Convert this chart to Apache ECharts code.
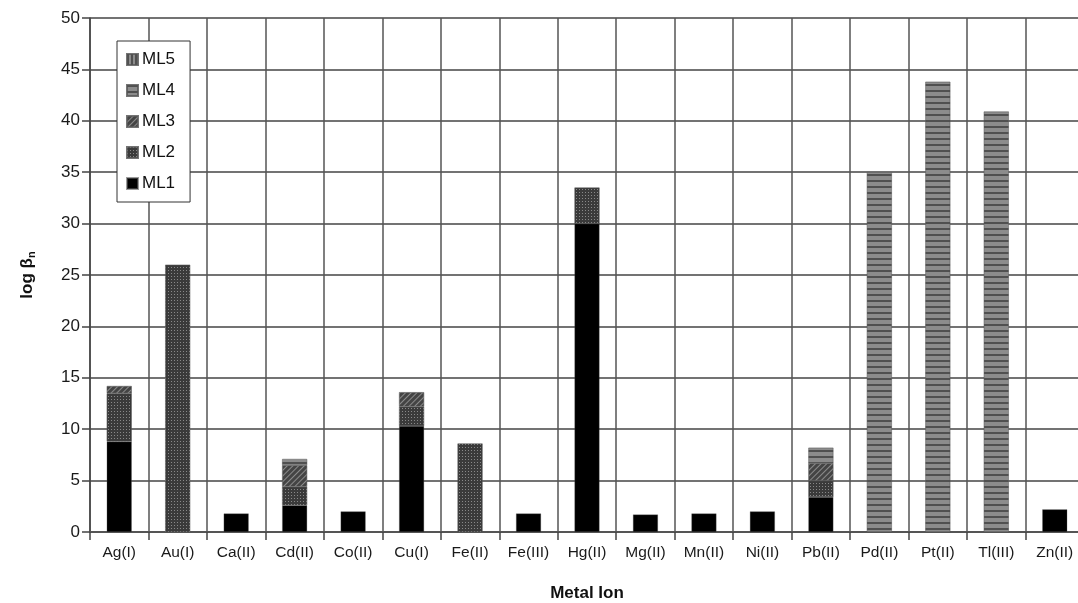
<!DOCTYPE html>
<html>
<head>
<meta charset="utf-8">
<script src="https://cdn.jsdelivr.net/npm/echarts@6/dist/echarts.min.js"></script>
<style>
  html, body { margin: 0; padding: 0; background: #fff; }
  #chart { width: 1078px; height: 603px; }
</style>
</head>
<body>
<div id="chart"></div>
<script>
// Stacked stability constants (log beta_n) per metal ion.
const ions = ['Ag(I)', 'Au(I)', 'Ca(II)', 'Cd(II)', 'Co(II)', 'Cu(I)', 'Fe(II)', 'Fe(III)', 'Hg(II)',
              'Mg(II)', 'Mn(II)', 'Ni(II)', 'Pb(II)', 'Pd(II)', 'Pt(II)', 'Tl(III)', 'Zn(II)'];
const ml1 = [8.8, 0, 1.8, 2.6, 2.0, 10.3, 0, 1.8, 30.0, 1.7, 1.8, 2.0, 3.4, 0, 0, 0, 2.2];
const ml2 = [4.7, 26.0, 0, 1.8, 0, 1.9, 8.6, 0, 3.5, 0, 0, 0, 1.6, 0, 0, 0, 0];
const ml3 = [0.7, 0, 0, 2.1, 0, 1.4, 0, 0, 0, 0, 0, 0, 1.7, 0, 0, 0, 0];
const ml4 = [0, 0, 0, 0.6, 0, 0, 0, 0, 0, 0, 0, 0, 1.5, 35.0, 43.8, 40.9, 0];
const ml5 = [0, 0, 0, 0, 0, 0, 0, 0, 0, 0, 0, 0, 0, 0, 0, 0, 0];
const yTicks = [0, 5, 10, 15, 20, 25, 30, 35, 40, 45, 50];

(function () {
  const chart = echarts.init(document.getElementById('chart'), null, { renderer: 'canvas' });
  const FONT = '"Liberation Sans", Arial, sans-serif';

  // fills mimic the printed hatch patterns
  const STYLES = {
    ML1: { color: '#000000' },
    ML2: { color: '#3a3a3a', decal: { symbol: 'rect', symbolSize: 1, color: 'rgba(200,200,200,0.55)', dashArrayX: [1, 2], dashArrayY: [1, 2] } },
    ML3: { color: '#444444', decal: { symbol: 'rect', symbolSize: 1, color: 'rgba(170,170,170,0.7)', dashArrayX: [1, 0], dashArrayY: [1, 3], rotation: -Math.PI / 4 } },
    ML4: { color: '#8c8c8c', decal: { symbol: 'rect', symbolSize: 1, color: 'rgba(60,60,60,0.75)', dashArrayX: [1, 0], dashArrayY: [2, 4] } },
    ML5: { color: '#8c8c8c', decal: { symbol: 'rect', symbolSize: 1, color: 'rgba(60,60,60,0.75)', dashArrayX: [2, 2], dashArrayY: [1, 0] } },
  };

  function mk(name, data) {
    return {
      name: name,
      type: 'bar',
      stack: 'logb',
      barWidth: 25,
      data: data.map((v) => (v > 0 ? v : '-')),
      itemStyle: Object.assign({ borderColor: 'rgba(90,90,90,0.6)', borderWidth: 0.5 }, STYLES[name]),
      emphasis: { disabled: true },
    };
  }

  chart.setOption({
    animation: false,
    backgroundColor: '#fff',
    textStyle: { fontFamily: FONT },
    grid: { left: 90, top: 18, width: 994, height: 514, outerBoundsMode: 'none', containLabel: false },
    legend: {
      data: ['ML5', 'ML4', 'ML3', 'ML2', 'ML1'],
      orient: 'vertical',
      left: 117,
      top: 41,
      icon: 'rect',
      backgroundColor: '#fff',
      borderColor: '#333',
      borderWidth: 1,
      padding: [10, 15, 10, 9],
      itemWidth: 11,
      itemHeight: 11,
      itemGap: 14,
      textStyle: { fontFamily: FONT, fontSize: 17, color: '#111', padding: [0, 0, 0, -1] },
    },
    xAxis: {
      type: 'category',
      data: ions,
      name: 'Metal Ion',
      nameLocation: 'middle',
      nameGap: 53,
      nameTextStyle: { fontFamily: FONT, fontSize: 17, fontWeight: 'bold', color: '#111' },
      axisLine: { lineStyle: { color: '#555', width: 2 } },
      axisTick: { show: true, length: 8, lineStyle: { color: '#444', width: 1.5 } },
      axisLabel: { fontFamily: FONT, fontSize: 15.5, color: '#1a1a1a', margin: 13, interval: 0 },
      splitLine: { show: true, interval: 0, lineStyle: { color: '#555', width: 1.5 } },
    },
    yAxis: {
      type: 'value',
      min: yTicks[0],
      max: yTicks[yTicks.length - 1],
      interval: 5,
      name: '{a|log β}{b|n}',
      nameLocation: 'middle',
      nameGap: 53,
      nameTextStyle: {
        rich: {
          a: { fontFamily: FONT, fontSize: 17, fontWeight: 'bold', color: '#111' },
          b: { fontFamily: FONT, fontSize: 11, fontWeight: 'bold', color: '#111', verticalAlign: 'bottom', padding: [9, 0, 0, 0] },
        },
      },
      axisLine: { show: true, lineStyle: { color: '#444', width: 1.5 } },
      axisTick: { show: true, length: 8, lineStyle: { color: '#444', width: 1.5 } },
      axisLabel: { fontFamily: FONT, fontSize: 17, color: '#1a1a1a', margin: 10 },
      splitLine: { lineStyle: { color: '#444', width: 1.5 } },
    },
    series: [mk('ML1', ml1), mk('ML2', ml2), mk('ML3', ml3), mk('ML4', ml4), mk('ML5', ml5)],
  });
})();
</script>
</body>
</html>
